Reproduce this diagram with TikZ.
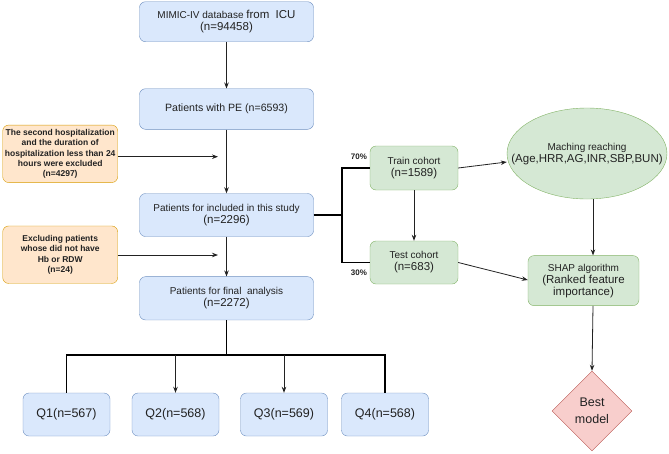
\documentclass[tikz,border=0pt]{standalone}
\usepackage{fontspec}
\setmainfont{Liberation Sans}
\usepackage{tikz}
\usetikzlibrary{arrows.meta,positioning,shapes.geometric}

\definecolor{blueFill}{HTML}{DAE8FC}
\definecolor{blueLine}{HTML}{6C8EBF}
\definecolor{greenFill}{HTML}{D5E8D4}
\definecolor{greenLine}{HTML}{82B366}
\definecolor{orangeFill}{HTML}{FFE6CC}
\definecolor{orangeLine}{HTML}{D79B00}
\definecolor{redFill}{HTML}{F8CECC}
\definecolor{redLine}{HTML}{B85450}
\definecolor{inkGray}{HTML}{222222}

\newcommand{\fsA}{\fontsize{10}{15}\selectfont}
\newcommand{\fsB}{\fontsize{11.5}{15}\selectfont}

\begin{document}
\begin{tikzpicture}[x=1pt, y=-1pt,
    bluebox/.style={draw=blueLine, fill=blueFill, rounded corners=6pt, align=center,
        text=inkGray, inner sep=0pt},
    greenbox/.style={draw=greenLine, fill=greenFill, rounded corners=6pt, align=center,
        text=inkGray, inner sep=0pt},
    excl/.style={draw=orangeLine, fill=orangeFill, rounded corners=6pt, align=center,
        text=inkGray, inner sep=0pt, font=\bfseries\fontsize{8.5}{10.3}\selectfont,
        minimum width=115pt, minimum height=57.5pt},
    qbox/.style={bluebox, minimum width=87pt, minimum height=43pt,
        font=\fontsize{12.5}{15}\selectfont},
    arr/.style={draw=inkGray, line width=0.8pt, -{Stealth[length=6pt, width=4.5pt]}},
    bus/.style={draw=black, line width=1.6pt},
    pct/.style={font=\bfseries\fontsize{8}{10}\selectfont, text=inkGray}]
    \useasboundingbox (0,0) rectangle (669,453);

    % Main column
    \node[bluebox, minimum width=174pt, minimum height=40pt] (db) at (226.5,21.7)
        {{\fsA MIMIC-IV database} {\fsB from\ \ ICU}\\ \fsB (n=94458)};
    \node[bluebox, minimum width=174pt, minimum height=40.6pt, font=\fontsize{10.6}{13}\selectfont]
        (pe) at (226.5,109) {Patients with PE (n=6593)};
    \node[bluebox, minimum width=174pt, minimum height=43pt] (incl) at (226.5,215)
        {{\fsA Patients for included in this study}\\ \fsB (n=2296)};
    \node[bluebox, minimum width=174pt, minimum height=43.3pt] (final) at (226.5,298.3)
        {{\fsA Patients for final\ \ analysis}\\ \fsB (n=2272)};

    \draw[arr] (db) -- (pe);
    \draw[arr] (pe) -- (incl);
    \draw[arr] (incl) -- (final);

    % Exclusions
    \node[excl] (ex1) at (60.2,153.8) {The second hospitalization\\ and the duration of\\
        hospitalization less than 24\\ hours were excluded\\ (n=4297)};
    \node[excl] (ex2) at (60.2,254.7) {Excluding patients\\ whose did not have\\ Hb or RDW\\ (n=24)};
    \coordinate (ex1end) at (218,156.7);
    \coordinate (ex2end) at (218,255);
    \draw[arr] (ex1.east |- ex1end) -- (ex1end);
    \draw[arr] (ex2.east |- ex2end) -- (ex2end);

    % Quartiles
    \node[qbox] (q1) at (66.5,414.5) {Q1(n=567)};
    \node[qbox] (q2) at (175.5,414.5) {Q2(n=568)};
    \node[qbox] (q3) at (284,414.5) {Q3(n=569)};
    \node[qbox] (q4) at (385,414.5) {Q4(n=568)};
    \coordinate (split) at (226.5,355);
    \draw[bus] (final) -- (split);
    \draw[bus] (q1.north) -- (q1 |- split) -- (q4 |- split) -- (q4.north);
    \draw[arr] (q2 |- split) -- (q2);
    \draw[arr] (q3 |- split) -- (q3);

    % Model branch
    \node[greenbox, minimum width=88pt, minimum height=44pt] (train) at (414,168)
        {{\fsA Train cohort}\\ \fsB (n=1589)};
    \node[greenbox, minimum width=88pt, minimum height=43pt] (test) at (414,262.5)
        {{\fsA Test cohort}\\ \fsB (n=683)};
    \coordinate (fork) at (342,215);
    \draw[bus] (incl) -- (fork) -- (fork |- train) -- (train);
    \draw[bus] (fork) -- (fork |- test) -- (test);
    \node[pct] (p70) at (359,157) {70\%};
    \node[pct] (p30) at (359,273) {30\%};
    \draw[arr] (train) -- (test);

    \node[ellipse, draw=greenLine, fill=greenFill, minimum width=160pt,
        minimum height=91pt] (match) at (587,153.5) {};
    \node[align=center, text=inkGray, inner sep=0pt] (matchtext) at (587,154)
        {{\fsA Maching reaching}\\ \fsB (Age,HRR,AG,INR,SBP,BUN)};
    \node[greenbox, minimum width=111pt, minimum height=50pt] (shap) at (583.5,280.6)
        {{\fsA SHAP algorithm}\\ \fsB (Ranked feature\\ \fsB importance)};
    \node[diamond, draw=redLine, fill=redFill, inner sep=0pt, minimum width=80pt,
        minimum height=80pt, align=center, text=inkGray, font=\fontsize{12.5}{16.5}\selectfont]
        (best) at (592,411) {Best\\ model};

    \draw[arr] (train.east) -- (match.west |- 0,162);
    \draw[arr] (test.east) -- (shap.west |- 0,280);
    \draw[arr] (match.south -| 593,0) -- (shap.north -| 593,0);
    \draw[arr] (shap.south -| 593,0) -- (best.north);
\end{tikzpicture}
\end{document}
